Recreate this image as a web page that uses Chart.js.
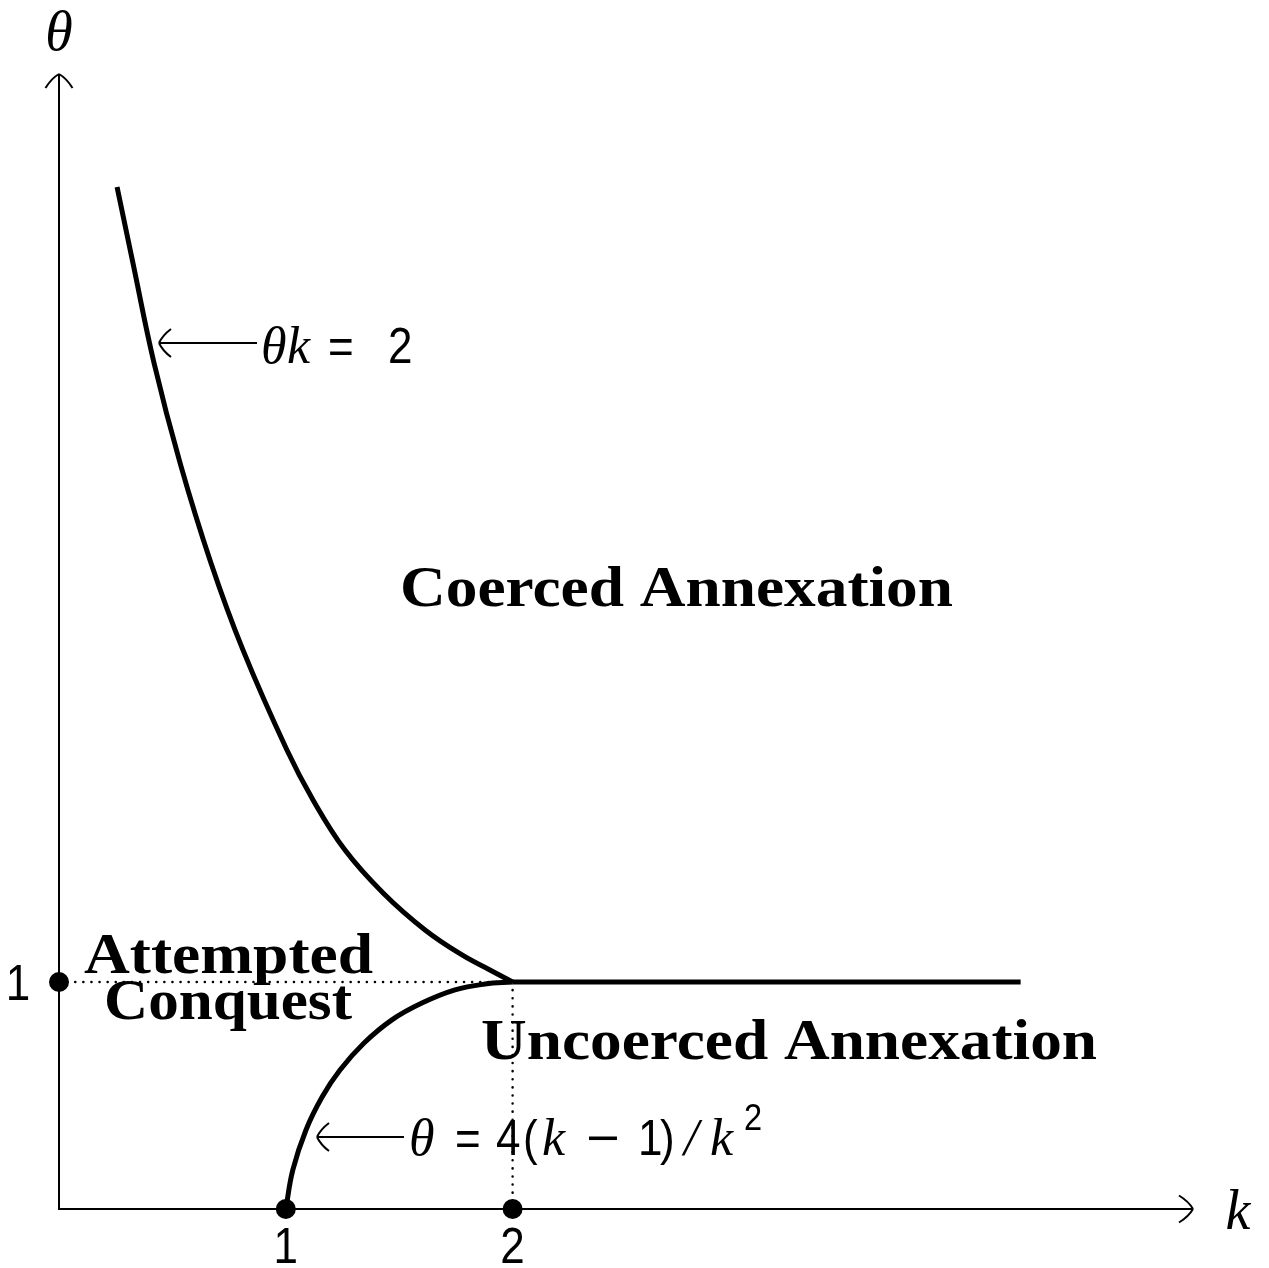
<!DOCTYPE html>
<html><head><meta charset="utf-8">
<script src="https://cdn.jsdelivr.net/npm/chart.js@4/dist/chart.umd.min.js"></script>
<style>html,body{margin:0;padding:0;background:#fff}#wrap{width:1269px;height:1268px;position:relative}</style>
</head><body><div id="wrap"><canvas id="c"></canvas></div>
<script>
// ---- data ----
const upperK     = [0.256, 0.326, 0.419, 0.534, 0.670, 0.811, 1.005, 1.120, 1.261, 1.429, 1.614, 1.777, 1.900, 2.0];
const upperTheta = [4.502, 4.167, 3.727, 3.286, 2.846, 2.463, 2.022, 1.802, 1.581, 1.392, 1.229, 1.119, 1.053, 1.0];
const lowerK     = [1.0, 1.031, 1.089, 1.160, 1.239, 1.345, 1.468, 1.600, 1.746, 1.878, 2.0];
const lowerTheta = [0.0, 0.172, 0.348, 0.493, 0.612, 0.731, 0.833, 0.907, 0.965, 0.991, 1.0];
const flatK      = [2.0, 4.24];
const flatTheta  = [1.0, 1.0];
const guideK     = [0, 2, 2];
const guideTheta = [1, 1, 0];
const markK      = [0, 1, 2];
const markTheta  = [1, 0, 0];
const xTickValues = [1, 2];
const xTickLabels = ['1', '2'];
const yTickValues = [1];
const yTickLabels = ['1'];
const axisMin = 0, axisMax = 5;
const xAxisTitle = 'k';
const yAxisTitle = 'θ';
const regionTexts = ['Coerced Annexation', 'Attempted', 'Conquest', 'Uncoerced Annexation'];

const pts = (xs, ys) => xs.map((x, i) => ({x: x, y: ys[i]}));

const MI = 'italic 52px "Liberation Serif", "DejaVu Serif", serif';
const RM = '50px "Liberation Sans", "DejaVu Sans", sans-serif';
const SUP = '37px "Liberation Sans", "DejaVu Sans", sans-serif';
const BF = 'bold 57px "Liberation Serif", "DejaVu Serif", serif';

function fitText(ctx, text, font, left, right, baseline) {
  ctx.save();
  ctx.font = font;
  const w = ctx.measureText(text).width;
  const s = (right - left) / w;
  ctx.translate(left, baseline);
  ctx.scale(s, 1);
  ctx.textAlign = 'left';
  ctx.textBaseline = 'alphabetic';
  ctx.fillText(text, 0, 0);
  ctx.restore();
}
function drawRuns(ctx, baseline, runs) {
  runs.forEach(r => {
    ctx.save();
    ctx.font = r[2];
    ctx.textAlign = 'left';
    ctx.textBaseline = 'alphabetic';
    ctx.translate(r[1], baseline + (r[3] || 0));
    if (r[4]) ctx.scale(r[4], 1);
    else if (r[2] === RM || r[2] === SUP) ctx.scale(0.88, 1);
    ctx.fillText(r[0], 0, 0);
    ctx.restore();
  });
}
function arrowHead(ctx, tx, ty, dir, len, half) {
  const [dx, dy] = dir;
  const nx = -dy, ny = dx;
  ctx.beginPath();
  for (const sgn of [1, -1]) {
    const ex = tx - dx * len + nx * half * sgn;
    const ey = ty - dy * len + ny * half * sgn;
    const cx = tx - dx * len * 0.3 + nx * half * 0.55 * sgn;
    const cy = ty - dy * len * 0.3 + ny * half * 0.55 * sgn;
    ctx.moveTo(ex, ey);
    ctx.quadraticCurveTo(cx, cy, tx, ty);
  }
  ctx.stroke();
}

const decor = {
  id: 'decor',
  beforeDatasetsDraw(chart) {
    const {ctx, scales: {x, y}} = chart;
    ctx.save();
    ctx.strokeStyle = '#000';
    ctx.lineWidth = 2;
    ctx.lineCap = 'butt';
    const x0 = x.getPixelForValue(0), y0 = y.getPixelForValue(0);
    const xe = x.getPixelForValue(axisMax), ye = y.getPixelForValue(axisMax);
    ctx.beginPath();
    ctx.moveTo(x0, y0 + 1); ctx.lineTo(x0, ye);
    ctx.moveTo(x0 - 1, y0); ctx.lineTo(xe, y0);
    ctx.stroke();
    arrowHead(ctx, x0, ye, [0, -1], 14, 13.5);
    arrowHead(ctx, xe, y0, [1, 0], 14, 13.5);
    ctx.restore();
  },
  afterDraw(chart) {
    const {ctx, scales: {x, y}} = chart;
    ctx.save();
    ctx.fillStyle = '#000';
    ctx.strokeStyle = '#000';
    // axis titles
    ctx.font = 'italic 56px "Liberation Serif", serif'; ctx.textAlign = 'center'; ctx.textBaseline = 'alphabetic';
    ctx.fillText(yAxisTitle, x.getPixelForValue(0), 50);
    ctx.fillText(xAxisTitle, 1238, 1229);
    // ticks
    ctx.font = RM;
    xTickValues.forEach((v, i) => {
      ctx.save();
      ctx.translate(x.getPixelForValue(v), 1263);
      ctx.scale(0.88, 1);
      ctx.textAlign = 'center';
      ctx.fillText(xTickLabels[i], 0, 0);
      ctx.restore();
    });
    yTickValues.forEach((v, i) => {
      ctx.save();
      ctx.translate(18, y.getPixelForValue(v) + 18);
      ctx.scale(0.88, 1);
      ctx.textAlign = 'center';
      ctx.fillText(yTickLabels[i], 0, 0);
      ctx.restore();
    });
    // region labels
    fitText(ctx, regionTexts[0], BF, 400, 953, 606);
    fitText(ctx, regionTexts[1], BF, 84, 373, 973);
    fitText(ctx, regionTexts[2], BF, 104, 352, 1019);
    fitText(ctx, regionTexts[3], BF, 481, 1097, 1059);
    // annotation arrows
    ctx.lineWidth = 2;
    ctx.beginPath(); ctx.moveTo(160, 343); ctx.lineTo(257, 343); ctx.stroke();
    arrowHead(ctx, 159, 343, [-1, 0], 12, 14);
    ctx.beginPath(); ctx.moveTo(318, 1137); ctx.lineTo(404, 1137); ctx.stroke();
    arrowHead(ctx, 317, 1137, [-1, 0], 12, 14);
    drawRuns(ctx, 363, [['θ', 261, MI], ['k', 287, MI], ['=', 328, RM], ['2', 388, RM]]);
    drawRuns(ctx, 1155, [['θ', 409, MI], ['=', 455, RM], ['4', 496, RM], ['(', 523, RM], ['k', 542, MI],
                         ['−', 586, RM, 0, 1.15], ['1', 638, RM], [')', 660, RM], ['/', 684, MI], ['k', 710, MI], ['2', 744, SUP, -25]]);
    ctx.restore();
  }
};

new Chart(document.getElementById('c'), {
  type: 'scatter',
  data: {
    datasets: [
      {data: pts(guideK, guideTheta), showLine: true, borderColor: '#000', borderWidth: 2.5, borderCapStyle: 'round', borderDash: [0.1, 8], pointRadius: 0, clip: false, order: 4},
      {data: pts(upperK, upperTheta), showLine: true, borderColor: '#000', borderWidth: 5, tension: 0.4, pointRadius: 0, clip: false, order: 3},
      {data: pts(lowerK, lowerTheta), showLine: true, borderColor: '#000', borderWidth: 5, tension: 0.4, pointRadius: 0, clip: false, order: 3},
      {data: pts(flatK, flatTheta), showLine: true, borderColor: '#000', borderWidth: 5, pointRadius: 0, clip: false, order: 3},
      {data: pts(markK, markTheta), showLine: false, pointRadius: 10, pointBackgroundColor: '#000', pointBorderWidth: 0, clip: false, order: 1}
    ]
  },
  options: {
    responsive: true,
    maintainAspectRatio: false,
    animation: false,
    events: [],
    layout: {padding: {left: 59, right: 76, top: 74, bottom: 59}},
    plugins: {legend: {display: false}, tooltip: {enabled: false}},
    scales: {
      x: {type: 'linear', min: axisMin, max: axisMax, display: false},
      y: {type: 'linear', min: axisMin, max: axisMax, display: false}
    }
  },
  plugins: [decor]
});
</script>
</body></html>
